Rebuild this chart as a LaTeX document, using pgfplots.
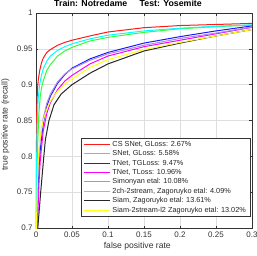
\documentclass[border=0pt]{standalone}
\usepackage{pgfplots}
\pgfplotsset{compat=1.18}
\usepackage{fontspec}
\setmainfont{Liberation Sans}
\definecolor{mred}{rgb}{1,0.1,0.1}
\definecolor{mgreen}{rgb}{0.2,1,0.2}
\definecolor{mblue}{rgb}{0.1,0.1,1}
\definecolor{mmag}{rgb}{1,0,1}
\definecolor{mpurp}{rgb}{0.68,0.55,0.9}
\definecolor{mcyan}{rgb}{0,1,1}
\definecolor{mblack}{rgb}{0.15,0.15,0.15}
\definecolor{myel}{rgb}{1,1,0.1}
\begin{document}
\begin{tikzpicture}
\useasboundingbox (-36pt,-27pt) rectangle (221pt,228pt);
\begin{axis}[
  scale only axis, width=216pt, height=215pt,
  xmin=0, xmax=0.3, ymin=0.7, ymax=1,
  xtick={0,0.05,0.1,0.15,0.2,0.25,0.3},
  xticklabels={0,0.05,0.1,0.15,0.2,0.25,0.3},
  ytick={0.7,0.75,0.8,0.85,0.9,0.95,1},
  yticklabels={0.7,0.75,0.8,0.85,0.9,0.95,1},
  /pgf/number format/assume math mode=true,
  ticklabel style={font=\fontsize{8}{9}\selectfont, text=black!80},
  tick align=inside, major tick length=2.5pt,
  tick style={black!80, line width=0.4pt},
  axis line style={black!80, line width=0.5pt},
  grid=major, major grid style={black!13, line width=0.4pt},
  xlabel={false positive rate}, ylabel={true positive rate (recall)},
  label style={font=\fontsize{8.6}{10}\selectfont, text=black!80},
  xlabel style={at={(axis description cs:0.469,0)}, anchor=north, yshift=-11pt},
  ylabel style={at={(axis description cs:0,0.48)}, anchor=south, yshift=23pt},
  title={\textbf{Train: Notredame\hspace{1.4em}Test: Yosemite}},
  title style={at={(axis description cs:0.426,1)}, anchor=south, font=\fontsize{8.8}{10}\selectfont, yshift=-2pt, inner sep=2pt},
  clip=true,
  legend cell align=left,
  legend style={at={(rel axis cs:0.991,0.417)}, anchor=north east,
    font=\fontsize{7.3}{9}\selectfont, draw=black!80, line width=0.4pt,
    fill=white, inner xsep=2pt, inner ysep=1pt,
    nodes={inner ysep=1.2pt, text height=5.5pt, text depth=1.5pt, text=black!85}},
  legend image code/.code={\draw[#1] (0pt,0pt) -- (26pt,0pt);},
  every axis plot/.append style={line width=1pt},
]
\addplot[mred] coordinates {(0,0.65)(0.0005,0.80)(0.001,0.86)(0.002,0.893)(0.003,0.905)(0.005,0.919)(0.0075,0.93)(0.01,0.937)(0.015,0.945)(0.02,0.949)(0.03,0.955)(0.04,0.959)(0.05,0.962)(0.075,0.968)(0.1,0.9735)(0.15,0.9795)(0.2,0.9825)(0.25,0.984)(0.3,0.9855)};
\addlegendentry{CS SNet, GLoss: 2.67\%}
\addplot[mgreen] coordinates {(0,0.65)(0.001,0.76)(0.002,0.81)(0.004,0.86)(0.006,0.885)(0.008,0.897)(0.01,0.905)(0.015,0.92)(0.02,0.928)(0.03,0.94)(0.04,0.947)(0.05,0.952)(0.075,0.961)(0.1,0.966)(0.15,0.973)(0.2,0.978)(0.25,0.981)(0.3,0.983)};
\addlegendentry{SNet, GLoss: 5.58\%}
\addplot[mblue] coordinates {(0,0.6)(0.002,0.72)(0.004,0.78)(0.006,0.81)(0.01,0.845)(0.015,0.87)(0.02,0.884)(0.03,0.902)(0.04,0.914)(0.05,0.923)(0.075,0.936)(0.1,0.945)(0.15,0.958)(0.2,0.967)(0.25,0.975)(0.3,0.982)};
\addlegendentry{TNet, TGLoss: 9.47\%}
\addplot[mmag] coordinates {(0,0.6)(0.002,0.7)(0.004,0.76)(0.006,0.795)(0.01,0.835)(0.015,0.86)(0.02,0.875)(0.03,0.893)(0.04,0.905)(0.05,0.913)(0.075,0.929)(0.1,0.94)(0.15,0.953)(0.2,0.962)(0.25,0.971)(0.3,0.98)};
\addlegendentry{TNet, TLoss: 10.96\%}
\addplot[mpurp] coordinates {(0,0.6)(0.0015,0.72)(0.003,0.78)(0.005,0.815)(0.01,0.853)(0.015,0.874)(0.02,0.887)(0.03,0.904)(0.04,0.915)(0.05,0.922)(0.075,0.934)(0.1,0.943)(0.15,0.955)(0.2,0.9645)(0.25,0.972)(0.3,0.9805)};
\addlegendentry{Simonyan etal: 10.08\%}
\addplot[mcyan] coordinates {(0,0.65)(0.0007,0.78)(0.0015,0.84)(0.003,0.88)(0.005,0.9)(0.0075,0.913)(0.01,0.922)(0.015,0.933)(0.02,0.94)(0.03,0.948)(0.04,0.953)(0.05,0.957)(0.075,0.964)(0.1,0.969)(0.15,0.975)(0.2,0.9788)(0.25,0.9815)(0.3,0.9835)};
\addlegendentry{2ch-2stream, Zagoruyko etal: 4.09\%}
\addplot[mblack] coordinates {(0,0.6)(0.0025,0.70)(0.0065,0.75)(0.01,0.79)(0.013,0.823)(0.018,0.85)(0.025,0.872)(0.035,0.887)(0.05,0.9)(0.075,0.916)(0.1,0.929)(0.15,0.947)(0.2,0.958)(0.25,0.968)(0.3,0.977)};
\addlegendentry{Siam, Zagoruyko etal: 13.61\%}
\addplot[myel] coordinates {(0,0.65)(0.001,0.72)(0.002,0.77)(0.004,0.81)(0.007,0.835)(0.01,0.85)(0.015,0.866)(0.02,0.877)(0.03,0.891)(0.04,0.901)(0.05,0.908)(0.075,0.924)(0.1,0.935)(0.15,0.949)(0.2,0.959)(0.25,0.968)(0.3,0.977)};
\addlegendentry{Siam-2stream-l2 Zagoruyko etal: 13.02\%}
\end{axis}
\end{tikzpicture}
\end{document}
